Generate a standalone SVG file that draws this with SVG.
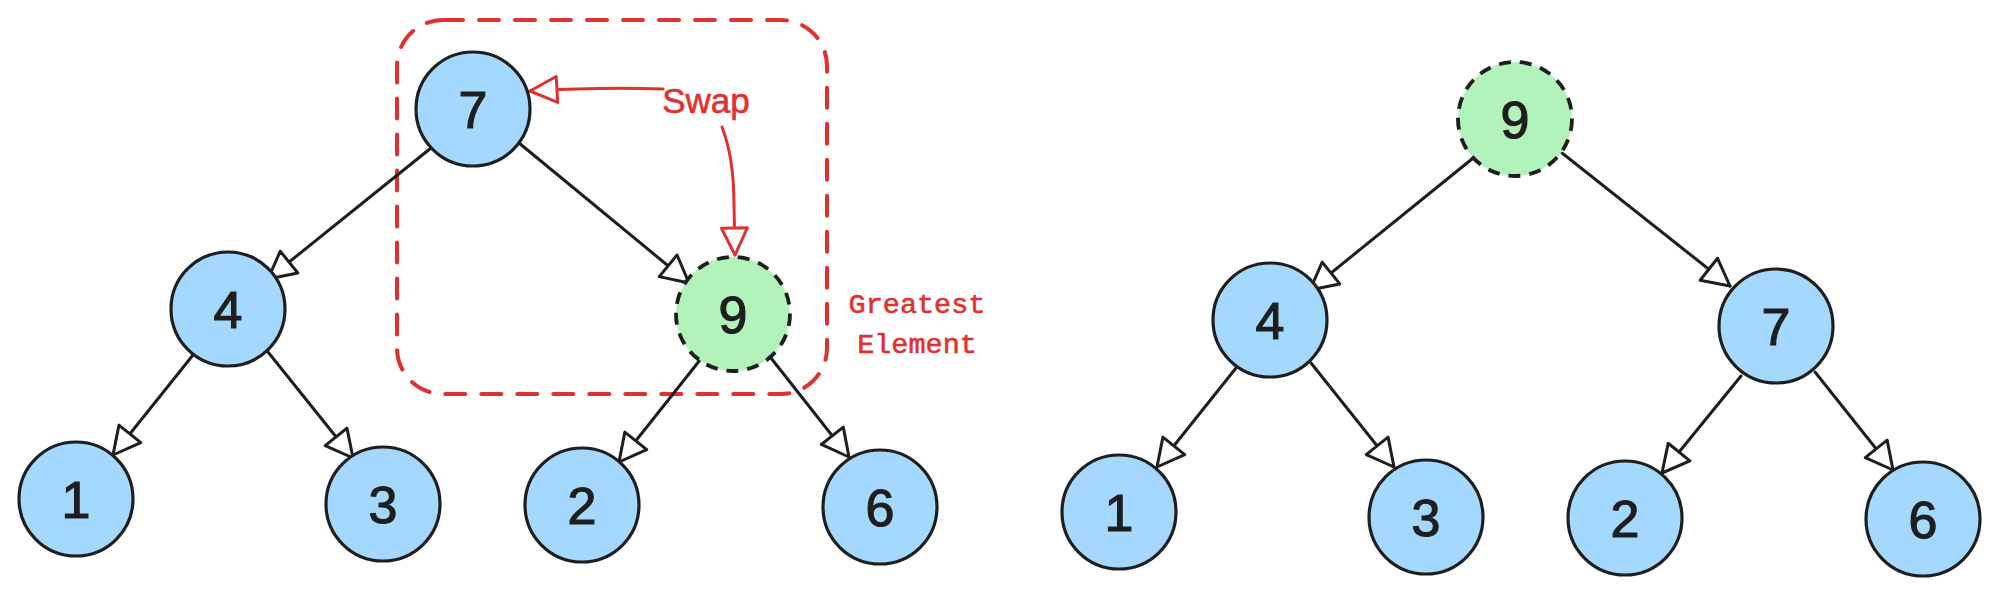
<svg xmlns="http://www.w3.org/2000/svg" width="1999" height="593" viewBox="0 0 1999 593">
<style>
.node{fill:#a5d8ff;stroke:#1e1e1e;stroke-width:3.2}
.hot{fill:#b2f2bb;stroke:#1e1e1e;stroke-width:3.8;stroke-dasharray:12 9}
.num{font-family:"Liberation Sans","Noto Sans",sans-serif;font-size:52px;fill:#1e1e1e;stroke:#1e1e1e;stroke-width:1.2;text-anchor:middle}
.edge{fill:none;stroke:#1e1e1e;stroke-width:3;stroke-linecap:round;marker-end:url(#ah)}
.redge{fill:none;stroke:#e03131;stroke-width:3;stroke-linecap:round;marker-end:url(#ahr)}
.note{fill:#e03131;stroke:#e03131}
</style>
<defs>
<marker id="ah" markerUnits="userSpaceOnUse" viewBox="-31 -17 34 34" markerWidth="34" markerHeight="34" refX="0" refY="0" orient="auto">
<path d="M0,0 L-27,-14 L-27,14 Z" fill="#fff" stroke="#1e1e1e" stroke-width="3" stroke-linejoin="round"/>
</marker>
<marker id="ahr" markerUnits="userSpaceOnUse" viewBox="-31 -17 34 34" markerWidth="34" markerHeight="34" refX="0" refY="0" orient="auto">
<path d="M0,0 L-27,-13 L-27,13 Z" fill="#fff" stroke="#e03131" stroke-width="3" stroke-linejoin="round"/>
</marker>
</defs>
<rect width="1999" height="593" fill="#fff"/>
<g id="highlight-box">
<rect x="397" y="20" width="430" height="374" rx="46" ry="46" fill="none" stroke="#e03131" stroke-width="4" stroke-dasharray="20 16" stroke-linecap="round"/>
</g>
<g id="connectors">
<path class="edge" d="M431,148 L268,279"/>
<path class="edge" d="M519,143 L689,283"/>
<path class="edge" d="M193,355 L113,455"/>
<path class="edge" d="M268,352 L353,458"/>
<path class="edge" d="M700,360 L619,462"/>
<path class="edge" d="M771,358 L849,457"/>
<path class="edge" d="M1472,159 L1310,290"/>
<path class="edge" d="M1562,153 L1730,286"/>
<path class="edge" d="M1236,368 L1157,467"/>
<path class="edge" d="M1311,363 L1394,467"/>
<path class="edge" d="M1741,376 L1662,473"/>
<path class="edge" d="M1815,372 L1893,470"/>
<path class="redge" d="M663,89 Q600,87 530,91"/>
<path class="redge" d="M722,127 C731,150 734,175 734,205 L735,255"/>
</g>
<g id="L7"><circle class="node" cx="473" cy="109" r="57"/><text class="num" x="473" y="128">7</text></g>
<g id="L4"><circle class="node" cx="228" cy="309" r="57"/><text class="num" x="228" y="328">4</text></g>
<g id="L9"><circle class="hot" cx="733" cy="314" r="57"/><text class="num" x="733" y="333">9</text></g>
<g id="L1"><circle class="node" cx="76" cy="499" r="57"/><text class="num" x="76" y="518">1</text></g>
<g id="L3"><circle class="node" cx="383" cy="504" r="57"/><text class="num" x="383" y="523">3</text></g>
<g id="L2"><circle class="node" cx="582" cy="505" r="57"/><text class="num" x="582" y="524">2</text></g>
<g id="L6"><circle class="node" cx="880" cy="507" r="57"/><text class="num" x="880" y="526">6</text></g>
<g id="R9"><circle class="hot" cx="1515" cy="119" r="57"/><text class="num" x="1515" y="138">9</text></g>
<g id="R4"><circle class="node" cx="1270" cy="320" r="57"/><text class="num" x="1270" y="339">4</text></g>
<g id="R7"><circle class="node" cx="1776" cy="326" r="57"/><text class="num" x="1776" y="345">7</text></g>
<g id="R1"><circle class="node" cx="1119" cy="512" r="57"/><text class="num" x="1119" y="531">1</text></g>
<g id="R3"><circle class="node" cx="1426" cy="517" r="57"/><text class="num" x="1426" y="536">3</text></g>
<g id="R2"><circle class="node" cx="1625" cy="518" r="57"/><text class="num" x="1625" y="537">2</text></g>
<g id="R6"><circle class="node" cx="1923" cy="519" r="57"/><text class="num" x="1923" y="538">6</text></g>
<g id="swap-label"><text class="note" x="706" y="113" font-family="'Liberation Sans','Noto Sans',sans-serif" font-size="35" stroke-width="0.6" text-anchor="middle">Swap</text></g>
<g id="greatest-label"><text class="note" font-family="'Liberation Mono','DejaVu Sans Mono',monospace" font-size="28.5" stroke-width="0.6" text-anchor="middle"><tspan x="917" y="313">Greatest</tspan><tspan x="917" y="353">Element</tspan></text></g>
</svg>
